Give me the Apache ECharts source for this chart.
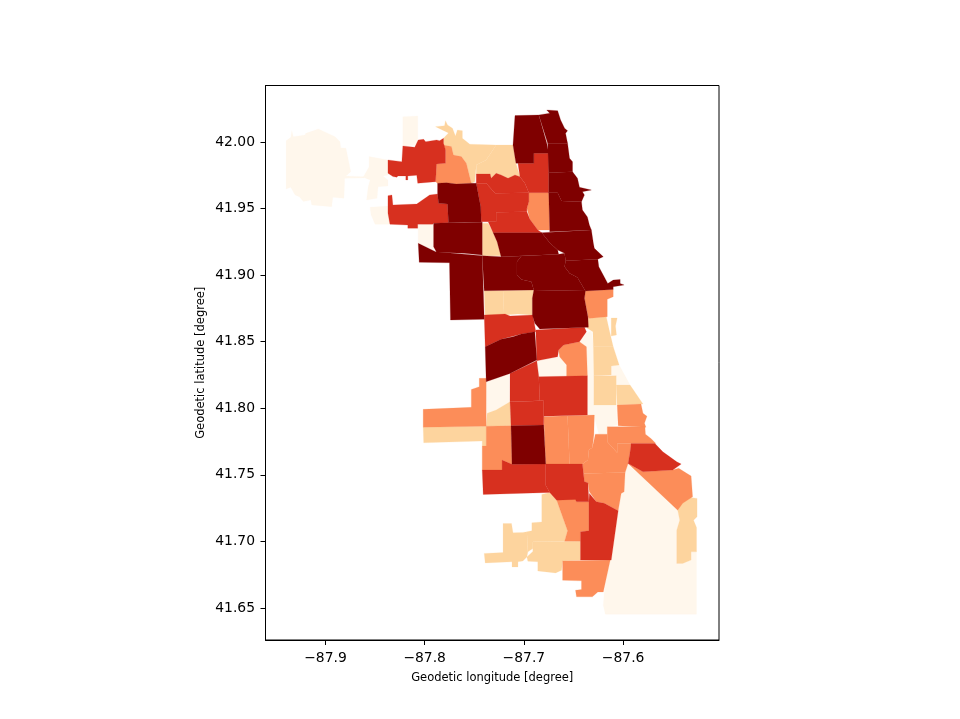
<!DOCTYPE html>
<html><head><meta charset="utf-8">
<script src="https://cdn.jsdelivr.net/npm/echarts@6/dist/echarts.min.js"></script>
<style>html,body{margin:0;padding:0;background:#fff}#c{width:960px;height:719px}</style>
</head><body><div id="c"></div>
<script>
const xTicks=[-87.9,-87.8,-87.7,-87.6];
const yTicks=[41.65,41.70,41.75,41.80,41.85,41.90,41.95,42.00];
const classColors=['#fff7ec','#fdd49e','#fc8d59','#d7301f','#7f0000'];

const lightAreas=[
[-87.9396,42.001,-87.9349,42.0035,-87.9339,42.0085,-87.9323,42.004,-87.9205,42.0053,-87.9198,42.0065,-87.9071,42.0098,-87.8903,42.004,-87.8853,42.0002,-87.8846,41.9957,-87.8793,41.9953,-87.8745,41.9777,-87.8793,41.9745,-87.8612,41.9739,-87.8612,41.973,-87.8806,41.9727,-87.8813,41.9577,-87.8926,41.9585,-87.8937,41.9514,-87.9138,41.9527,-87.9148,41.9564,-87.9222,41.9552,-87.9263,41.9589,-87.9306,41.9602,-87.9349,41.966,-87.9396,41.9647],
[-87.856,41.989,-87.837,41.9865,-87.837,41.9752,-87.842,41.9745,-87.837,41.9715,-87.837,41.9669,-87.847,41.9664,-87.848,41.9577,-87.8585,41.9564,-87.857,41.966,-87.855,41.9715,-87.862,41.9735,-87.856,41.9814],
[-87.855,41.9509,-87.837,41.9519,-87.835,41.9382,-87.85,41.9382,-87.854,41.9452],
[-87.822,42.019,-87.807,42.0195,-87.807,41.9977,-87.822,41.997],
[-87.8065,41.9376,-87.791,41.9389,-87.79,41.9189,-87.8065,41.9239],
[-87.644,41.85,-87.637,41.8563,-87.632,41.8582,-87.63,41.8462,-87.6295,41.8024,-87.607,41.8024,-87.606,41.7874,-87.616,41.7861,-87.617,41.7806,-87.6245,41.7806,-87.6295,41.7949,-87.6355,41.7949,-87.6365,41.825,-87.637,41.8462],
[-87.612,41.8317,-87.604,41.8325,-87.593,41.8174,-87.607,41.8174,-87.607,41.8244,-87.612,41.825],
[-87.687,41.8357,-87.667,41.8382,-87.663,41.8387,-87.657,41.8312,-87.657,41.8237,-87.685,41.8237],
[-87.738,41.8199,-87.715,41.8262,-87.714,41.8049,-87.728,41.7987,-87.737,41.7962],
[-87.595,41.7586,-87.545,41.7235,-87.543,41.716,-87.546,41.7085,-87.546,41.6835,-87.54,41.6835,-87.5315,41.686,-87.5315,41.6922,-87.526,41.6922,-87.526,41.6454,-87.618,41.6454,-87.62,41.6521,-87.619,41.6621,-87.605,41.723,-87.602,41.7361,-87.599,41.7373,-87.598,41.7518]
];
const peachAreas=[
[-87.789,42.0115,-87.78,42.0122,-87.779,42.016,-87.777,42.0128,-87.772,42.0103,-87.769,42.0045,-87.767,42.009,-87.762,42.0085,-87.762,42.0028,-87.7545,41.9983,-87.728,41.9977,-87.738,41.9865,-87.748,41.9827,-87.7495,41.9702,-87.753,41.969,-87.758,41.984,-87.763,41.989,-87.771,41.9902,-87.773,41.9965,-87.781,41.9977,-87.781,42.0028,-87.776,42.0068],
[-87.728,41.9977,-87.711,41.9977,-87.708,41.984,-87.704,41.9739,-87.709,41.9752,-87.716,41.9727,-87.723,41.9752,-87.728,41.9765,-87.733,41.9727,-87.734,41.976,-87.748,41.976,-87.748,41.9827,-87.738,41.9865],
[-87.742,41.9389,-87.736,41.9389,-87.731,41.9319,-87.727,41.9251,-87.723,41.9146,-87.742,41.9146],
[-87.74,41.8883,-87.721,41.8883,-87.72,41.87,-87.724,41.8688,-87.739,41.87],
[-87.721,41.8883,-87.69,41.8888,-87.6915,41.8826,-87.6915,41.87,-87.706,41.8708,-87.72,41.87],
[-87.6355,41.8675,-87.617,41.8688,-87.614,41.8588,-87.61,41.8462,-87.63,41.8462,-87.6305,41.8575,-87.6365,41.8603],
[-87.612,41.8678,-87.606,41.8678,-87.6077,41.8618,-87.6067,41.855,-87.612,41.8542],
[-87.63,41.8462,-87.61,41.8462,-87.604,41.8325,-87.612,41.8317,-87.612,41.825,-87.6295,41.8244],
[-87.6295,41.8244,-87.607,41.8244,-87.607,41.8024,-87.6295,41.8024],
[-87.607,41.8174,-87.593,41.8174,-87.58,41.8032,-87.606,41.8024],
[-87.737,41.7962,-87.728,41.7987,-87.714,41.8049,-87.713,41.7869,-87.738,41.7866],
[-87.8015,41.7857,-87.738,41.7866,-87.738,41.7716,-87.742,41.7716,-87.742,41.7754,-87.801,41.7741],
[-87.545,41.7235,-87.54,41.731,-87.5315,41.7331,-87.5255,41.7323,-87.5255,41.7185,-87.529,41.716,-87.526,41.7105,-87.526,41.6922,-87.5315,41.6922,-87.5315,41.686,-87.54,41.6835,-87.546,41.6835,-87.546,41.7085,-87.543,41.716],
[-87.682,41.7353,-87.674,41.7368,-87.667,41.731,-87.656,41.708,-87.659,41.7002,-87.691,41.6997,-87.691,41.6947,-87.696,41.6922,-87.697,41.7072,-87.692,41.708,-87.692,41.714,-87.682,41.7147],
[-87.691,41.6997,-87.643,41.7002,-87.643,41.686,-87.661,41.6854,-87.662,41.6784,-87.668,41.6764,-87.686,41.6779,-87.686,41.6847,-87.696,41.6852,-87.697,41.6884,-87.691,41.6925],
[-87.721,41.7135,-87.7125,41.7135,-87.711,41.7065,-87.701,41.7068,-87.697,41.7072,-87.696,41.6922,-87.697,41.6884,-87.701,41.6854,-87.706,41.6847,-87.706,41.6809,-87.712,41.6809,-87.712,41.6847,-87.739,41.6839,-87.74,41.691,-87.721,41.6917]
];
const orangeAreas=[
[-87.781,41.9977,-87.773,41.9965,-87.771,41.9902,-87.763,41.989,-87.758,41.984,-87.753,41.969,-87.768,41.9684,-87.778,41.9694,-87.787,41.969,-87.789,41.9702,-87.788,41.9835,-87.779,41.984,-87.779,41.994],
[-87.695,41.9619,-87.675,41.9619,-87.674,41.9339,-87.686,41.9339,-87.694,41.9419,-87.697,41.9502,-87.695,41.9551],
[-87.638,41.8881,-87.61,41.8893,-87.61,41.8838,-87.616,41.8818,-87.616,41.8688,-87.635,41.8675,-87.639,41.8826],
[-87.606,41.8024,-87.582,41.8032,-87.58,41.7962,-87.576,41.7941,-87.5785,41.7887,-87.577,41.7857,-87.605,41.7869],
[-87.616,41.7861,-87.578,41.7861,-87.5775,41.7806,-87.572,41.7774,-87.567,41.7736,-87.592,41.7736,-87.606,41.7736,-87.606,41.7666,-87.616,41.7748],
[-87.628,41.7806,-87.616,41.7806,-87.616,41.7748,-87.606,41.7666,-87.606,41.7736,-87.592,41.7736,-87.593,41.7673,-87.595,41.7586,-87.598,41.7518,-87.64,41.7511,-87.641,41.7581,-87.6355,41.7611,-87.6345,41.7686,-87.631,41.7706],
[-87.656,41.7944,-87.629,41.7949,-87.6295,41.7799,-87.631,41.7706,-87.6345,41.7686,-87.6355,41.7611,-87.641,41.7581,-87.654,41.7581],
[-87.68,41.7936,-87.656,41.7944,-87.654,41.7581,-87.678,41.7581],
[-87.665,41.8437,-87.66,41.8475,-87.644,41.85,-87.637,41.8462,-87.636,41.8244,-87.657,41.8237,-87.657,41.8325,-87.664,41.8387],
[-87.8015,41.7992,-87.753,41.8007,-87.753,41.8142,-87.745,41.8162,-87.745,41.8225,-87.738,41.8225,-87.738,41.7866,-87.8015,41.7857],
[-87.738,41.7866,-87.713,41.7869,-87.712,41.7579,-87.722,41.7611,-87.722,41.7536,-87.742,41.7536,-87.742,41.7716,-87.738,41.7716],
[-87.64,41.7511,-87.598,41.7518,-87.599,41.7373,-87.602,41.7361,-87.605,41.723,-87.619,41.7286,-87.627,41.7298,-87.634,41.7373,-87.6355,41.744,-87.639,41.7448],
[-87.595,41.7586,-87.58,41.7523,-87.55,41.7536,-87.544,41.7549,-87.5315,41.7491,-87.53,41.7335,-87.54,41.7286,-87.545,41.7235],
[-87.667,41.731,-87.648,41.733,-87.647,41.7298,-87.6345,41.7298,-87.6345,41.708,-87.643,41.7072,-87.643,41.7002,-87.659,41.7002,-87.656,41.708],
[-87.661,41.6854,-87.613,41.686,-87.62,41.6621,-87.6255,41.6621,-87.631,41.6584,-87.647,41.6584,-87.648,41.6634,-87.642,41.6639,-87.642,41.6704,-87.661,41.6709]
];
const redAreas=[
[-87.837,41.9865,-87.823,41.9852,-87.822,41.997,-87.81,41.996,-87.8065,42.0015,-87.801,42.002,-87.799,42.0002,-87.788,42.0015,-87.785,42.001,-87.781,42.0028,-87.781,41.999,-87.779,41.994,-87.779,41.984,-87.788,41.9835,-87.789,41.9702,-87.807,41.969,-87.808,41.975,-87.817,41.9745,-87.817,41.9715,-87.819,41.9715,-87.819,41.9745,-87.827,41.9745,-87.828,41.9735,-87.832,41.974,-87.837,41.9765],
[-87.837,41.9597,-87.833,41.9602,-87.832,41.9527,-87.808,41.9534,-87.795,41.9602,-87.787,41.9609,-87.786,41.9539,-87.777,41.9534,-87.776,41.9394,-87.791,41.9389,-87.792,41.9382,-87.807,41.9382,-87.807,41.9352,-87.817,41.9352,-87.817,41.9376,-87.835,41.9382,-87.837,41.9464],
[-87.748,41.976,-87.734,41.976,-87.733,41.9727,-87.728,41.9765,-87.723,41.9752,-87.716,41.9727,-87.709,41.9752,-87.704,41.9739,-87.699,41.969,-87.695,41.9619,-87.729,41.9615,-87.738,41.969,-87.748,41.969],
[-87.748,41.969,-87.738,41.969,-87.729,41.9615,-87.695,41.9619,-87.695,41.9551,-87.697,41.9502,-87.697,41.9476,-87.728,41.9472,-87.728,41.9401,-87.743,41.9401,-87.7435,41.9514,-87.7455,41.9589],
[-87.728,41.9472,-87.697,41.9476,-87.694,41.9419,-87.686,41.9339,-87.682,41.9319,-87.731,41.9319,-87.736,41.9401,-87.728,41.9401],
[-87.706,41.984,-87.69,41.984,-87.69,41.9915,-87.675,41.9915,-87.675,41.9619,-87.695,41.9619,-87.699,41.969,-87.704,41.9739],
[-87.592,41.7736,-87.568,41.7736,-87.56,41.7673,-87.546,41.7598,-87.5415,41.7581,-87.55,41.7536,-87.58,41.7523,-87.595,41.7586,-87.593,41.7673],
[-87.688,41.8588,-87.639,41.8608,-87.637,41.8575,-87.644,41.85,-87.66,41.8475,-87.665,41.8437,-87.666,41.8387,-87.687,41.8357],
[-87.74,41.87,-87.719,41.8708,-87.714,41.8693,-87.691,41.87,-87.688,41.8575,-87.7025,41.8558,-87.723,41.8518,-87.739,41.8462],
[-87.714,41.8262,-87.687,41.8357,-87.685,41.8237,-87.684,41.8056,-87.714,41.8049],
[-87.685,41.8237,-87.636,41.8244,-87.636,41.7949,-87.68,41.7941,-87.68,41.8056,-87.684,41.8056],
[-87.714,41.8049,-87.68,41.8056,-87.68,41.7874,-87.713,41.7869],
[-87.742,41.7536,-87.722,41.7536,-87.722,41.7611,-87.712,41.7579,-87.678,41.7581,-87.678,41.7423,-87.674,41.7368,-87.741,41.7353],
[-87.678,41.7581,-87.641,41.7581,-87.64,41.7511,-87.639,41.7448,-87.6355,41.744,-87.6345,41.7298,-87.647,41.7298,-87.648,41.7316,-87.667,41.731,-87.674,41.7368,-87.678,41.7423],
[-87.634,41.7361,-87.627,41.7298,-87.619,41.7286,-87.605,41.723,-87.612,41.686,-87.643,41.686,-87.643,41.7072,-87.6345,41.708,-87.6345,41.7298]
];
const darkAreas=[
[-87.709,42.0198,-87.685,42.0203,-87.677,41.999,-87.675,41.9915,-87.69,41.9915,-87.69,41.984,-87.706,41.984,-87.708,41.984,-87.711,41.9977],
[-87.685,42.0203,-87.674,42.0216,-87.677,42.024,-87.666,42.0235,-87.663,42.0165,-87.659,42.0103,-87.656,42.0085,-87.658,42.0065,-87.656,41.999,-87.676,41.999],
[-87.676,41.999,-87.656,41.999,-87.654,41.9878,-87.651,41.9852,-87.651,41.9777,-87.675,41.9769],
[-87.675,41.9769,-87.651,41.9777,-87.646,41.9727,-87.644,41.966,-87.632,41.9639,-87.641,41.9627,-87.639,41.9602,-87.642,41.9551,-87.662,41.9557,-87.666,41.9619,-87.675,41.9619],
[-87.675,41.9619,-87.666,41.9619,-87.662,41.9557,-87.642,41.9551,-87.641,41.9489,-87.636,41.9437,-87.634,41.9376,-87.632,41.9339,-87.674,41.9326,-87.674,41.9339],
[-87.787,41.969,-87.778,41.9694,-87.768,41.9684,-87.753,41.969,-87.748,41.969,-87.7455,41.9589,-87.7435,41.9514,-87.743,41.9401,-87.742,41.9397,-87.76,41.9397,-87.776,41.9394,-87.777,41.9534,-87.786,41.9539,-87.787,41.9609],
[-87.791,41.9389,-87.776,41.9394,-87.742,41.9397,-87.742,41.9151,-87.76,41.9164,-87.788,41.9171,-87.791,41.9213],
[-87.8065,41.9239,-87.789,41.9176,-87.742,41.9146,-87.74,41.8668,-87.774,41.8663,-87.775,41.9093,-87.8055,41.9096],
[-87.731,41.9319,-87.682,41.9319,-87.674,41.9243,-87.666,41.9189,-87.665,41.9156,-87.723,41.9138,-87.727,41.9251],
[-87.682,41.9319,-87.632,41.9339,-87.63,41.9239,-87.629,41.9201,-87.62,41.9138,-87.6255,41.9119,-87.658,41.9108,-87.659,41.9164,-87.666,41.9189,-87.674,41.9243],
[-87.658,41.9108,-87.6255,41.9119,-87.6245,41.9063,-87.6155,41.8938,-87.61,41.8963,-87.603,41.8968,-87.603,41.8938,-87.599,41.8926,-87.61,41.8913,-87.61,41.8893,-87.638,41.8881,-87.646,41.8983,-87.654,41.9014,-87.659,41.9063],
[-87.7025,41.9144,-87.665,41.9156,-87.659,41.9164,-87.658,41.9108,-87.659,41.9063,-87.654,41.9014,-87.646,41.8983,-87.638,41.8881,-87.69,41.8888,-87.6925,41.895,-87.7025,41.8968,-87.707,41.9001,-87.707,41.9101],
[-87.742,41.9146,-87.723,41.9138,-87.7025,41.9144,-87.707,41.9101,-87.707,41.9001,-87.7025,41.8968,-87.6925,41.895,-87.69,41.8888,-87.74,41.8883],
[-87.69,41.8888,-87.638,41.8881,-87.639,41.8826,-87.6355,41.8688,-87.635,41.8608,-87.684,41.8595,-87.689,41.8638,-87.6915,41.87,-87.6915,41.8826],
[-87.739,41.8462,-87.723,41.8518,-87.711,41.8537,-87.7025,41.8558,-87.689,41.8575,-87.687,41.8362,-87.714,41.8262,-87.738,41.8199],
[-87.713,41.7869,-87.68,41.7874,-87.678,41.7581,-87.712,41.7579]
];

const areaClasses=[lightAreas,peachAreas,orangeAreas,redAreas,darkAreas];
const seriesData=[];
areaClasses.forEach((list,c)=>list.forEach((flat,i)=>seriesData.push([flat[0],flat[1],c,i])));

const chart=echarts.init(document.getElementById('c'),null,{renderer:'canvas'});
chart.setOption({
  animation:false,
  backgroundColor:'#fff',
  textStyle:{fontFamily:'DejaVu Sans'},
  grid:{left:265.5,top:85.5,width:453.5,height:554.5,show:true,borderColor:'#000',borderWidth:1,backgroundColor:'#fff'},
  xAxis:{type:'value',min:-87.9604,max:-87.5034,splitLine:{show:false},
    axisLine:{show:true,onZero:false,lineStyle:{color:'#000',width:1}},
    axisTick:{show:true,length:5,customValues:xTicks,lineStyle:{color:'#000',width:1}},
    axisLabel:{customValues:xTicks,color:'#000',fontSize:13.9,margin:11,fontFamily:'DejaVu Sans',
      formatter:v=>'\u2212'+Math.abs(v).toFixed(1)},
    name:'Geodetic longitude [degree]',nameLocation:'middle',nameGap:32,
    nameTextStyle:{color:'#000',fontSize:11.5,fontFamily:'DejaVu Sans'}},
  yAxis:{type:'value',min:41.626,max:42.0424,splitLine:{show:false},
    axisLine:{show:true,onZero:false,lineStyle:{color:'#000',width:1}},
    axisTick:{show:true,length:5,customValues:yTicks,lineStyle:{color:'#000',width:1}},
    axisLabel:{customValues:yTicks,color:'#000',fontSize:13.9,margin:10.5,padding:[2,0,0,0],fontFamily:'DejaVu Sans',
      formatter:v=>v.toFixed(2)},
    name:'Geodetic latitude [degree]',nameLocation:'middle',nameGap:58,
    nameTextStyle:{color:'#000',fontSize:11.5,fontFamily:'DejaVu Sans'}},
  series:[{type:'custom',coordinateSystem:'cartesian2d',silent:true,clip:true,
    encode:{x:0,y:1},data:seriesData,
    renderItem:(params,api)=>{
      const c=api.value(2),flat=areaClasses[c][api.value(3)],pts=[];
      for(let k=0;k<flat.length;k+=2)pts.push(api.coord([flat[k],flat[k+1]]));
      return {type:'polygon',shape:{points:pts},style:{fill:classColors[c],stroke:classColors[c],lineWidth:0.2}};
    }}]
});
</script></body></html>
